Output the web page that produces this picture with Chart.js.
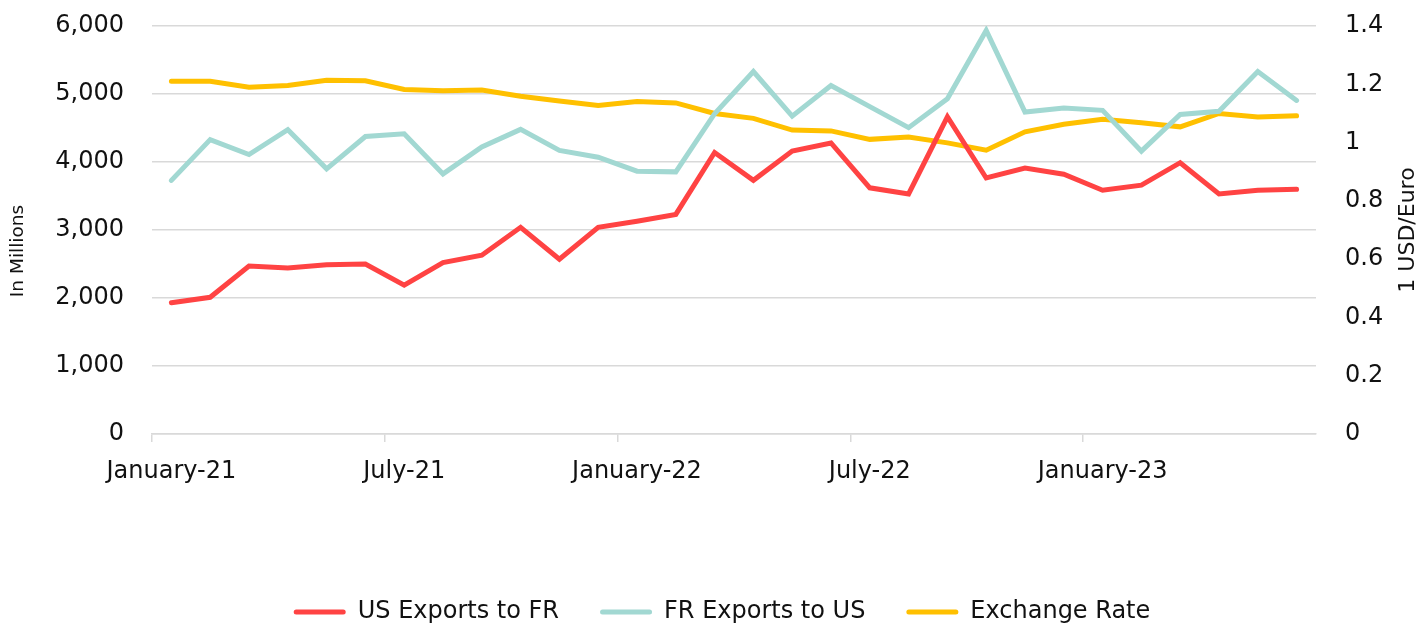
<!DOCTYPE html>
<html>
<head>
<meta charset="utf-8">
<script src="https://cdn.jsdelivr.net/npm/chart.js@4"></script>
<style>
  html, body { margin: 0; padding: 0; background: #ffffff; }
  #wrap { width: 1424px; height: 628px; position: relative; }
</style>
</head>
<body>
<div id="wrap"><canvas id="c"></canvas></div>
<script>
const categories = [
  "January-21","February-21","March-21","April-21","May-21","June-21",
  "July-21","August-21","September-21","October-21","November-21","December-21",
  "January-22","February-22","March-22","April-22","May-22","June-22",
  "July-22","August-22","September-22","October-22","November-22","December-22",
  "January-23","February-23","March-23","April-23","May-23","June-23"
];
const usExportsToFR = [1930, 2010, 2470, 2440, 2490, 2500, 2190, 2520, 2630, 3040, 2570, 3040,
  3130, 3230, 4140, 3730, 4160, 4280, 3620, 3530, 4665, 3765, 3910, 3820,
  3585, 3660, 3990, 3530, 3585, 3600];
const frExportsToUS = [3730, 4330, 4110, 4475, 3900, 4375, 4415, 3825, 4220, 4480, 4170, 4070,
  3865, 3855, 4710, 5330, 4675, 5125, 4815, 4505, 4930, 5935, 4735, 4795,
  4760, 4160, 4700, 4745, 5330, 4905];
const exchangeRate = [1.210, 1.210, 1.190, 1.196, 1.214, 1.212, 1.182, 1.178, 1.180, 1.159, 1.143, 1.127,
  1.141, 1.136, 1.100, 1.083, 1.043, 1.040, 1.011, 1.019, 0.999, 0.974, 1.037, 1.063,
  1.080, 1.068, 1.054, 1.100, 1.088, 1.092];
const seriesNames = ["US Exports to FR", "FR Exports to US", "Exchange Rate"];
const seriesColors = ["#FF4343", "#A2D8D2", "#FFC000"];
const leftAxisTitle = "In Millions";
const rightAxisTitle = "1 USD/Euro";

const FONT = "'DejaVu Sans', sans-serif";
const TEXT = "#111111";
const GRID = "#d9d9d9";

function drawVerticalTitle(ctx, text, x, y, size) {
  ctx.save();
  ctx.translate(x, y);
  ctx.rotate(-Math.PI / 2);
  ctx.font = size + "px " + FONT;
  ctx.fillStyle = TEXT;
  ctx.textAlign = 'center';
  ctx.textBaseline = 'middle';
  ctx.fillText(text, 0, 0);
  ctx.restore();
}

const axisTitlesPlugin = {
  id: 'axisTitles',
  afterLayout(chart) {
    if (chart.legend) { chart.legend.left += 10; chart.legend.right += 10; }
  },
  afterDraw(chart) {
    const a = chart.chartArea;
    drawVerticalTitle(chart.ctx, leftAxisTitle, 18, a.bottom - 183, 18.5);
    drawVerticalTitle(chart.ctx, rightAxisTitle, 1408, (a.top + a.bottom) / 2, 22);
  }
};

new Chart(document.getElementById('c'), {
  type: 'line',
  data: {
    labels: categories,
    datasets: [
      { label: seriesNames[0], data: usExportsToFR, yAxisID: 'y', borderColor: seriesColors[0], backgroundColor: seriesColors[0] },
      { label: seriesNames[1], data: frExportsToUS, yAxisID: 'y', borderColor: seriesColors[1], backgroundColor: seriesColors[1] },
      { label: seriesNames[2], data: exchangeRate, yAxisID: 'y1', borderColor: seriesColors[2], backgroundColor: seriesColors[2] }
    ]
  },
  options: {
    responsive: true,
    maintainAspectRatio: false,
    animation: false,
    elements: {
      line: { borderWidth: 5, tension: 0, borderCapStyle: 'round', borderJoinStyle: 'miter' },
      point: { radius: 0, hoverRadius: 0 }
    },
    layout: { padding: { top: 26, left: 0, right: 0, bottom: -6 } },
    plugins: {
      tooltip: { enabled: false },
      legend: {
        position: 'bottom',
        labels: {
          font: { family: FONT, size: 24 },
          color: TEXT,
          boxWidth: 52,
          boxHeight: 5,
          padding: 41,
          useBorderRadius: true,
          borderRadius: 2.5,
          generateLabels(chart) {
            return chart.data.datasets.map((d, i) => ({
              text: d.label,
              fillStyle: d.borderColor,
              strokeStyle: d.borderColor,
              lineWidth: 0,
              hidden: false,
              datasetIndex: i,
              fontColor: TEXT,
              borderRadius: 2.5
            }));
          }
        }
      }
    },
    scales: {
      x: {
        type: 'category',
        offset: true,
        afterFit: (s) => { s.height = 125; },
        grid: {
          offset: true,
          drawOnChartArea: false,
          drawTicks: true,
          tickLength: 8,
          color: (c) => (c.index % 6 === 0 ? GRID : 'rgba(0,0,0,0)'),
          lineWidth: 1.5
        },
        border: { display: true, color: GRID, width: 1.5 },
        ticks: {
          autoSkip: false,
          maxRotation: 0,
          minRotation: 0,
          padding: 15,
          font: { family: FONT, size: 24 },
          color: TEXT,
          callback: function(v, i) { return i % 6 === 0 ? categories[i] : ''; }
        }
      },
      y: {
        position: 'left',
        min: 0, max: 6000,
        afterFit: (s) => { s.width = 152; s.paddingTop = 0; s.paddingBottom = 0; },
        grid: { color: GRID, lineWidth: 1.5, drawTicks: false },
        border: { display: false },
        ticks: {
          stepSize: 1000,
          padding: 28,
          font: { family: FONT, size: 24 },
          color: TEXT,
          callback: (v) => v.toLocaleString('en-US')
        }
      },
      y1: {
        position: 'right',
        min: 0, max: 1.4,
        afterFit: (s) => { s.width = 108; s.paddingTop = 0; s.paddingBottom = 0; },
        grid: { drawOnChartArea: false, drawTicks: false },
        border: { display: false },
        ticks: {
          stepSize: 0.2,
          padding: 29,
          font: { family: FONT, size: 24 },
          color: TEXT,
          callback: (v) => String(+Number(v).toFixed(1))
        }
      }
    }
  },
  plugins: [axisTitlesPlugin]
});
</script>
</body>
</html>
